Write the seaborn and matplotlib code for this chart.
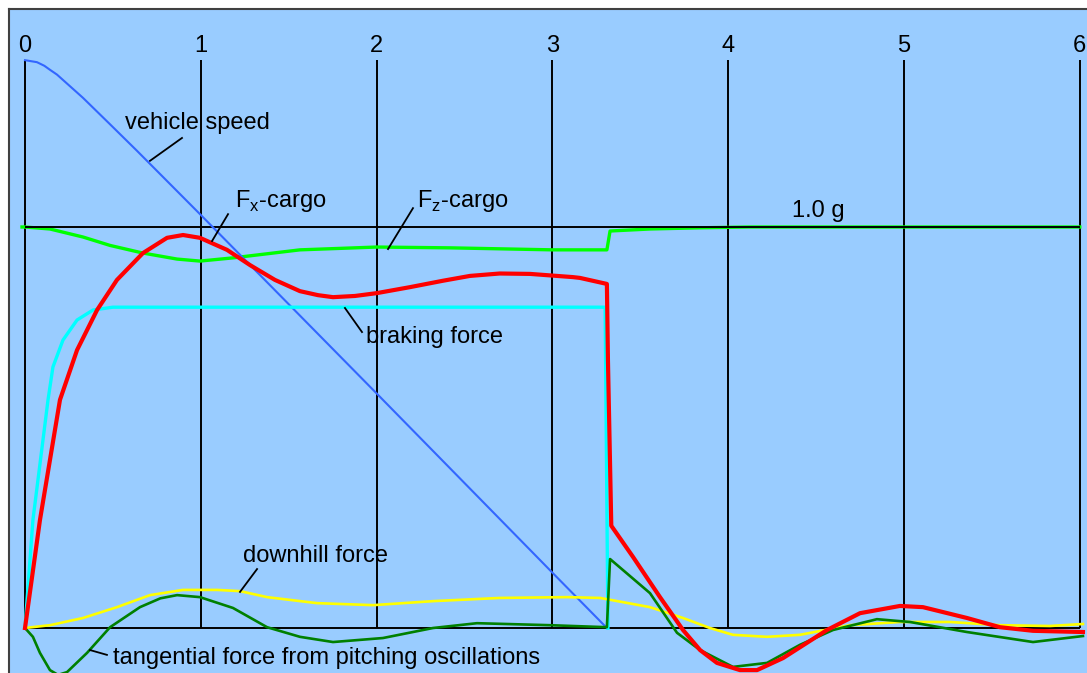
import numpy as np
import pandas as pd
import seaborn as sns
import matplotlib.pyplot as plt

# time axis ticks (s)
ticks = [0, 1, 2, 3, 4, 5, 6]

# curves (x in s, y in g)
speed_x = [0, 0.068, 0.11, 0.142, 0.182, 0.33, 0.484, 0.637, 1.0, 2.0, 3.0, 3.31]
speed_y = [1.416, 1.411, 1.402, 1.392, 1.380, 1.322, 1.256, 1.190, 1.030, 0.585, 0.138, 0.0]

fz_x = [-0.017, 0, 0.142, 0.33, 0.484, 0.671, 0.865, 0.995, 1.183, 1.564, 2.0, 2.418, 3.0, 3.31, 3.328, 3.555, 3.84, 4.12, 6.0]
fz_y = [1.0, 1.0, 0.995, 0.975, 0.954, 0.935, 0.920, 0.915, 0.923, 0.943, 0.950, 0.948, 0.943, 0.943, 0.990, 0.995, 0.998, 1.0, 1.0]

fx_x = [0, 0.085, 0.199, 0.296, 0.41, 0.523, 0.671, 0.808, 0.899, 0.995, 1.149, 1.28, 1.422, 1.564, 1.667, 1.752,
        1.877, 2.0, 2.19, 2.378, 2.531, 2.70, 2.873, 3.117, 3.157, 3.31, 3.316, 3.335, 3.459, 3.612, 3.743, 3.84,
        3.936, 4.067, 4.164, 4.312, 4.562, 4.75, 4.977, 5.108, 5.358, 5.546, 5.734, 6.018]
fx_y = [0, 0.269, 0.569, 0.693, 0.793, 0.868, 0.935, 0.973, 0.980, 0.973, 0.943, 0.905, 0.868, 0.840, 0.830, 0.825,
        0.828, 0.835, 0.850, 0.866, 0.878, 0.884, 0.883, 0.875, 0.873, 0.858, 0.668, 0.255, 0.177, 0.077, -0.005,
        -0.055, -0.087, -0.105, -0.105, -0.075, -0.005, 0.037, 0.055, 0.052, 0.025, 0.002, -0.007, -0.010]

brake_x = [0, 0.045, 0.131, 0.159, 0.216, 0.296, 0.387, 0.50, 3.30, 3.316]
brake_y = [0, 0.269, 0.569, 0.651, 0.718, 0.768, 0.793, 0.80, 0.80, 0.0]

downhill_x = [0, 0.142, 0.33, 0.523, 0.711, 0.899, 1.092, 1.223, 1.377, 1.661, 1.98, 2.321, 2.702, 3.083, 3.271,
              3.555, 3.743, 3.896, 4.027, 4.221, 4.408, 4.693, 4.977, 5.262, 5.546, 5.83, 6.018]
downhill_y = [0, 0.007, 0.025, 0.052, 0.082, 0.095, 0.095, 0.092, 0.077, 0.062, 0.057, 0.067, 0.075, 0.077, 0.075,
              0.052, 0.025, 0.0, -0.017, -0.022, -0.017, 0.007, 0.015, 0.015, 0.007, 0.005, 0.010]

pitch_x = [0, 0.045, 0.085, 0.142, 0.188, 0.239, 0.353, 0.484, 0.654, 0.77, 0.865, 0.995, 1.183, 1.377, 1.564, 1.752,
           2.036, 2.321, 2.571, 2.986, 3.31, 3.328, 3.555, 3.709, 3.84, 4.027, 4.221, 4.408, 4.596, 4.846, 5.034,
           5.358, 5.734, 6.018]
pitch_y = [0, -0.022, -0.062, -0.105, -0.117, -0.110, -0.062, 0.002, 0.052, 0.074, 0.082, 0.077, 0.050, 0.002,
           -0.022, -0.035, -0.025, 0.0, 0.012, 0.007, 0.002, 0.172, 0.087, -0.012, -0.055, -0.097, -0.087, -0.042,
           -0.005, 0.022, 0.015, -0.010, -0.035, -0.020]

plt.rcParams['font.family'] = ['Liberation Sans', 'DejaVu Sans']
fs = 17

fig = plt.figure(figsize=(10.87, 6.73), dpi=100)
ax = fig.add_axes([9 / 1087, 0, 1 - 9 / 1087, 664 / 673])
ax.set_facecolor('#99ccff')
ax.set_xlim(-0.091, 6.041)
ax.set_ylim(-0.1122, 1.5436)
ax.set_xticks([])
ax.set_yticks([])
for s in ['right', 'bottom']:
    ax.spines[s].set_visible(False)
for s in ['left', 'top']:
    ax.spines[s].set_color('#404040')
    ax.spines[s].set_linewidth(1.5)

# grid
ax.vlines(ticks, 0, 1.416, color='black', lw=1.4, zorder=1)
for t in ticks:
    ax.text(t, 1.452, str(t), ha='center', va='center', fontsize=fs)

def line(x, y, color, lw, z):
    sns.lineplot(x=x, y=y, ax=ax, color=color, linewidth=lw, estimator=None, sort=False, zorder=z)

line(fz_x, fz_y, '#00ff00', 2.4, 2)
ax.hlines([0, 1], 0, 6, color='black', lw=1.4, zorder=2.5)
line(speed_x, speed_y, '#3366ff', 1.5, 3)
line(brake_x, brake_y, '#00ffff', 2.4, 3)
line(downhill_x, downhill_y, '#ffff00', 1.9, 3)
line(pitch_x, pitch_y, '#008000', 1.9, 3)
line(fx_x, fx_y, '#ff0000', 3.0, 4)

# labels with leader lines
labels = [
    ("vehicle speed", 0.569, 1.259, (0.711, 0.893), (1.165, 1.222)),
    ("F$_\\mathregular{x}$-cargo", 1.195, 1.065, (1.064, 1.155), (0.965, 1.032)),
    ("F$_\\mathregular{z}$-cargo", 2.23, 1.065, (2.065, 2.207), (0.945, 1.047)),
    ("braking force", 1.94, 0.726, (1.82, 1.917), (0.798, 0.738)),
    ("downhill force", 1.24, 0.18, (1.223, 1.32), (0.09, 0.147)),
    ("tangential force from pitching oscillations", 0.50, -0.075, (0.37, 0.466), (-0.055, -0.067)),
]
for txt, tx, ty, lx, ly in labels:
    ax.text(tx, ty, txt, ha='left', va='center', fontsize=fs, zorder=6)
    ax.plot(lx, ly, color='black', lw=1.3, zorder=6)

ax.text(4.51, 1.04, "1.0 g", ha='center', va='center', fontsize=fs)

fig.savefig("out.png", dpi=100)
